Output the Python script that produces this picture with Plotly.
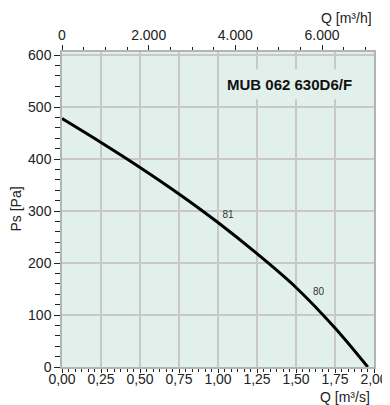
import plotly.graph_objects as go

# Data
q_m3s = [0.0, 0.25, 0.5, 0.75, 1.0, 1.25, 1.5, 1.75, 1.96]
ps_pa = [478, 432, 384, 333, 278, 218, 153, 75, 0]

label_q = [1.065, 1.645]
label_ps = [292, 144]
label_text = ["81", "80"]

x_ticks = [0, 0.25, 0.5, 0.75, 1.0, 1.25, 1.5, 1.75, 2.0]
y_ticks = [0, 100, 200, 300, 400, 500, 600]
top_ticks = [0, 2000, 4000, 6000]

model = "MUB 062 630D6/F"

PLOT_BG = "#e2f0ec"
GRID = "#c8c8c8"
FONT = "Liberation Sans, Arial, sans-serif"
TXT = "#222222"

fig = go.Figure()

fig.add_trace(go.Scatter(
    x=q_m3s, y=ps_pa, mode="lines",
    line=dict(color="black", width=3, shape="spline", smoothing=1.0),
    hoverinfo="skip", showlegend=False,
))

fig.add_trace(go.Scatter(
    x=label_q, y=label_ps, mode="text", text=label_text,
    textfont=dict(size=10, color="#333333", family=FONT),
    showlegend=False, hoverinfo="skip",
))

# invisible trace for the top axis
fig.add_trace(go.Scatter(
    x=[0, 7200], y=[0, 0], xaxis="x2", mode="markers",
    marker=dict(opacity=0), showlegend=False, hoverinfo="skip",
))

# box behind the model name that covers the grid
fig.add_shape(type="rect", xref="x", yref="y", x0=1.03, x1=2.0, y0=515, y1=573,
              fillcolor=PLOT_BG, line=dict(width=0), layer="between")

fig.add_annotation(x=1.46, y=544, xref="x", yref="y", text="<b>" + model + "</b>",
                   showarrow=False, font=dict(size=15, color="#111111", family=FONT))

fig.add_annotation(x=1.0, xref="paper", xanchor="right", y=1.0, yref="paper",
                   yshift=34, yanchor="middle", text="Q [m³/h]", showarrow=False,
                   font=dict(size=14, color=TXT, family=FONT))
fig.add_annotation(x=0.995, xref="paper", xanchor="right", y=0.0, yref="paper",
                   yshift=-30, yanchor="middle", text="Q [m³/s]", showarrow=False,
                   font=dict(size=14, color=TXT, family=FONT))
fig.add_annotation(x=0.0, xref="paper", xshift=-47, xanchor="center", y=0.5, yref="paper",
                   textangle=-90, text="Ps [Pa]", showarrow=False,
                   font=dict(size=14, color=TXT, family=FONT))

# The page body adds an 8 px margin, so the figure is 8 px smaller and the margins shifted.
fig.update_layout(
    width=382, height=397,
    margin=dict(l=54, r=16, t=44, b=38, autoexpand=False),
    paper_bgcolor="white", plot_bgcolor=PLOT_BG,
    separators=",.",
    font=dict(family=FONT, size=14, color=TXT),
    xaxis=dict(
        automargin=False,
        range=[0, 2.0], tickvals=x_ticks, tickformat=".2f",
        showgrid=True, gridcolor=GRID, gridwidth=1.5,
        ticks="outside", ticklen=4, tickcolor=TXT, tickwidth=1,
        ticklabelstandoff=-6,
        minor=dict(dtick=0.25 / 6, ticks="outside", ticklen=3, tickcolor=TXT, showgrid=False),
        showline=True, linecolor="#b4b4b4", linewidth=1.5, zeroline=False,
        tickfont=dict(size=14, color=TXT),
    ),
    xaxis2=dict(
        automargin=False,
        range=[0, 7200], overlaying="x", side="top", anchor="y",
        tickvals=top_ticks, tickformat=",d", showgrid=False,
        ticks="outside", ticklen=5, tickcolor=TXT, tickwidth=1,
        minor=dict(dtick=500, ticks="outside", ticklen=3, tickcolor=TXT, showgrid=False),
        showline=True, linecolor="#b4b4b4", linewidth=1.5, zeroline=False,
        tickfont=dict(size=14, color=TXT),
    ),
    yaxis=dict(
        automargin=False,
        range=[0, 606], tickvals=y_ticks,
        showgrid=True, gridcolor=GRID, gridwidth=1.5,
        ticks="outside", ticklen=6, tickcolor=TXT, tickwidth=1,
        minor=dict(dtick=20, ticks="outside", ticklen=5, tickcolor=TXT, showgrid=False),
        showline=True, linecolor="#b4b4b4", linewidth=1.5, mirror=True, zeroline=False,
        tickfont=dict(size=14, color=TXT),
    ),
)

fig.write_html("out.html")
